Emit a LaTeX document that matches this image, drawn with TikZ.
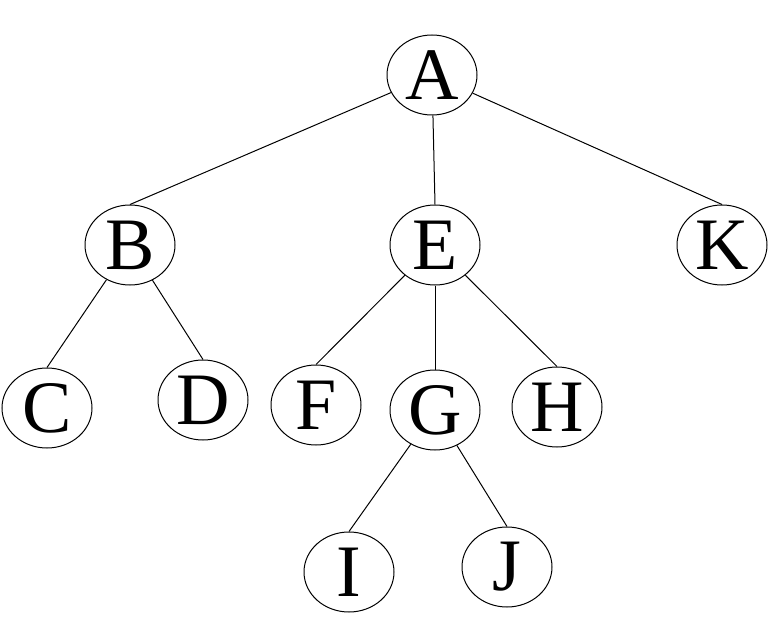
\documentclass[tikz,border=0pt]{standalone}
\usepackage{fontspec}
\setmainfont{Liberation Serif}
\usetikzlibrary{shapes.geometric}
\tikzset{
	vertex/.style={ellipse, draw, line width=1pt, minimum width=90pt, minimum height=80pt, inner sep=0pt, font=\fontsize{74}{76}\selectfont},
	edge/.style={line width=1pt}
}
\begin{document}
\begin{tikzpicture}[x=1pt, y=-1pt]
	\useasboundingbox (0,0) rectangle (778,644);
	% Knoten
	\node[vertex] (A) at (432, 75) {A};
	\node[vertex] (B) at (130, 245) {B};
	\node[vertex] (E) at (435, 245) {E};
	\node[vertex] (K) at (722, 245) {K};
	\node[vertex] (C) at (47, 408) {C};
	\node[vertex] (D) at (203, 400) {D};
	\node[vertex] (F) at (316, 405) {F};
	\node[vertex] (G) at (435, 410) {G};
	\node[vertex] (H) at (557, 407) {H};
	\node[vertex] (I) at (349, 572) {I};
	\node[vertex] (J) at (507, 567) {J};
	% Kanten
	\foreach \a/\b in {A/B, A/E, A/K, B/C, B/D, E/F, E/G, E/H, G/I, G/J}
		\draw[edge] (\a) -- (\b.north);
\end{tikzpicture}
\end{document}
